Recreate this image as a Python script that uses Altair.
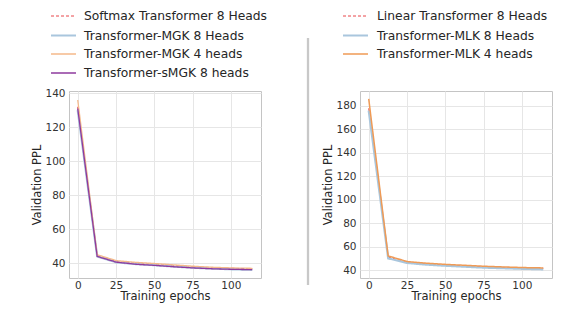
import altair as alt
import pandas as pd

epochs = [0, 12.7, 25.3, 38, 50.7, 63.3, 76, 88.7, 101.3, 114]

left_names = ["Softmax Transformer 8 Heads", "Transformer-MGK 8 Heads",
              "Transformer-MGK 4 heads", "Transformer-sMGK 8 heads"]
softmax8 = [132, 44.5, 41.0, 40.0, 39.3, 38.6, 37.9, 37.3, 37.0, 36.8]
mgk8 = [130, 44.0, 40.5, 39.5, 38.8, 38.0, 37.3, 36.8, 36.4, 36.1]
mgk4 = [136, 45.0, 41.5, 40.5, 39.8, 39.0, 38.2, 37.6, 37.2, 37.0]
smgk8 = [131, 44.0, 40.6, 39.4, 38.7, 37.9, 37.2, 36.7, 36.4, 36.2]
left_colors = ["#e8474b", "#a9c6dd", "#f4b98a", "#8e3a9e"]
left_dash = [[3, 2], [1, 0], [1, 0], [1, 0]]
left_widths = [1.0, 2.2, 1.3, 1.3]

right_names = ["Linear Transformer 8 Heads", "Transformer-MLK 8 Heads",
               "Transformer-MLK 4 heads"]
linear8 = [178, 51, 46.5, 45.2, 44.3, 43.5, 42.8, 42.2, 41.8, 41.5]
mlk8 = [176, 50, 46.0, 44.6, 43.6, 42.8, 42.0, 41.5, 41.0, 40.6]
mlk4 = [186, 52, 47.2, 45.8, 44.8, 44.0, 43.2, 42.6, 42.1, 41.8]
right_colors = ["#e8474b", "#a9c6dd", "#ef9a55"]
right_dash = [[3, 2], [1, 0], [1, 0]]
right_widths = [1.0, 2.2, 1.5]

x_ticks = [0, 25, 50, 75, 100]
left_yticks = [40, 60, 80, 100, 120, 140]
right_yticks = [40, 60, 80, 100, 120, 140, 160, 180]


def long_df(names, series):
    rows = []
    for n, vals in zip(names, series):
        for e, v in zip(epochs, vals):
            rows.append({"series": n, "epoch": e, "ppl": v})
    return pd.DataFrame(rows)


def panel(names, series, colors, dashes, widths, ydom, yticks, lx, lofs, extra=None):
    df = long_df(names, series)
    leg = alt.Legend(orient="none", legendX=lx, legendY=-82, title=None,
                     symbolType="M-2,0L2,0", symbolSize=156, labelFontSize=12.3,
                     labelFont="DejaVu Sans", labelColor="#262626",
                     labelOffset=lofs, rowPadding=5, padding=0, labelLimit=400)
    base = alt.Chart(df).mark_line(clip=True).encode(
        x=alt.X("epoch:Q", scale=alt.Scale(domain=[-5.7, 119.7], nice=False, zero=False),
                axis=alt.Axis(values=x_ticks, title="Training epochs")),
        y=alt.Y("ppl:Q", scale=alt.Scale(domain=ydom, nice=False, zero=False),
                axis=alt.Axis(values=yticks, title="Validation PPL")),
        color=alt.Color("series:N", scale=alt.Scale(domain=names, range=colors),
                        sort=names, legend=leg),
        strokeDash=alt.StrokeDash("series:N", scale=alt.Scale(domain=names, range=dashes),
                                  sort=names, legend=leg),
        strokeWidth=alt.StrokeWidth("series:N",
                                    scale=alt.Scale(type="ordinal", domain=names, range=widths),
                                    sort=names, legend=leg),
        order=alt.Order("epoch:Q"),
    )
    layers = [base]
    if extra is not None:
        layers.append(extra)
    return alt.layer(*layers).properties(width=192, height=187)


sep = alt.Chart(pd.DataFrame({"k": [0]})).mark_rule(color="#c8c8c8", strokeWidth=2.3).encode(
    x=alt.value(-52), y=alt.value(-53), y2=alt.value(194)
)

left = panel(left_names, [softmax8, mgk8, mgk4, smgk8], left_colors, left_dash,
             left_widths, [31.3, 141.3], left_yticks, -13, 13)
right = panel(right_names, [linear8, mlk8, mlk4], right_colors, right_dash,
              right_widths, [33.2, 192.8], right_yticks, -12, 14, extra=sep)

chart = alt.hconcat(left, right, spacing=38).resolve_scale(
    color="independent", strokeDash="independent", strokeWidth="independent",
    x="independent", y="independent"
).properties(
    padding={"left": 23, "top": 0, "right": 0, "bottom": 0}
).configure_view(
    stroke="#c4c4c4", strokeWidth=1
).configure_axis(
    domain=False, ticks=False, grid=True, gridColor="#e6e6e6", gridWidth=1,
    labelFont="DejaVu Sans", labelFontSize=10.5, labelColor="#333333", labelPadding=4,
    titleFont="DejaVu Sans", titleFontSize=11.5, titleFontWeight="normal",
    titleColor="#262626", titlePadding=2
).configure_axisX(labelPadding=2, titlePadding=0)

chart.save("out.html", embed_options={"renderer": "svg", "actions": False})
